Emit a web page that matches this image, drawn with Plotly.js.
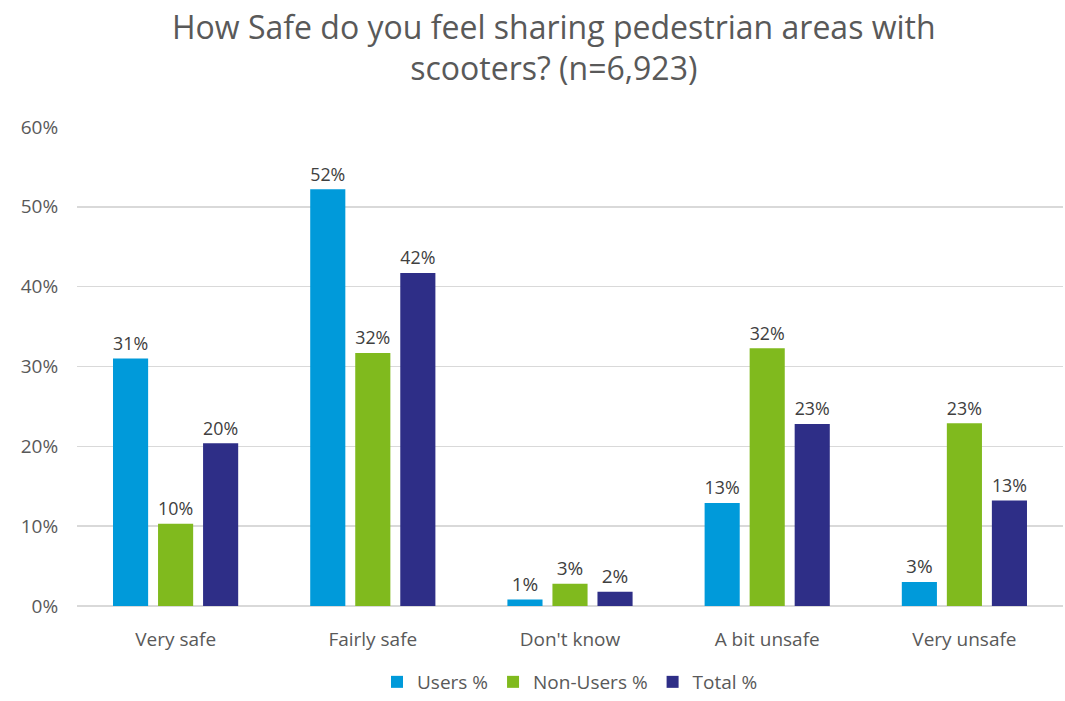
<!DOCTYPE html>
<html><head><meta charset="utf-8">
<script src="https://cdn.plot.ly/plotly-3.0.1.min.js"></script>
<style>html,body{margin:0;padding:0;background:#fff}#chart{width:1065px;height:701px}</style>
</head><body><div id="chart"></div>
<script>
const categories = ["Very safe", "Fairly safe", "Don't know", "A bit unsafe", "Very unsafe"];
const usersPct = [0.310, 0.522, 0.008, 0.129, 0.030];
const nonUsersPct = [0.103, 0.317, 0.028, 0.323, 0.229];
const totalPct = [0.204, 0.417, 0.018, 0.228, 0.132];
const seriesNames = ["Users %", "Non-Users %", "Total %"];
const colors = ["#009ADA", "#80BA1E", "#2E2E87"];
const font = "Open Sans, Liberation Sans, sans-serif";

const vals = [usersPct, nonUsersPct, totalPct];
const traces = vals.map((v, i) => ({
  type: 'bar', x: categories, y: v, name: seriesNames[i],
  marker: {color: colors[i]},
  texttemplate: '%{y:.0%}', textposition: 'outside', cliponaxis: false,
  textfont: {family: font, size: 19, color: '#404040'},
  hoverinfo: 'skip'
}));

const layout = {
  width: 1065, height: 701,
  margin: {l: 77, r: 2, t: 127, b: 95},
  paper_bgcolor: '#fff', plot_bgcolor: '#fff',
  font: {family: font, color: '#595959'},
  title: {text: 'How Safe do you feel sharing pedestrian areas with<br>scooters? (n=6,923)',
    x: 0.52, xanchor: 'center', yref: 'container', y: 0.945, yanchor: 'middle',
    font: {family: font, size: 32, color: '#595959'}},
  barmode: 'group', bargap: 0.315, bargroupgap: 0.22,
  xaxis: {showline: false, ticks: 'outside', ticklen: 16, tickcolor: 'rgba(0,0,0,0)',
    tickfont: {size: 19, color: '#595959'}, showgrid: false},
  yaxis: {range: [0, 0.6], dtick: 0.1, tickformat: '.0%', gridcolor: '#D9D9D9', gridwidth: 1.5,
    zeroline: true, zerolinecolor: '#D9D9D9', zerolinewidth: 1.5,
    tickfont: {size: 19, color: '#595959'}, ticks: 'outside', ticklen: 14, tickcolor: 'rgba(0,0,0,0)'},
  showlegend: true,
  legend: {orientation: 'h', x: 0.5, xanchor: 'center', yref: 'container', y: 0.0, yanchor: 'bottom',
    font: {size: 19, color: '#595959'}, traceorder: 'normal'}
};
Plotly.newPlot('chart', traces, layout, {displayModeBar: false, staticPlot: true});
</script></body></html>
